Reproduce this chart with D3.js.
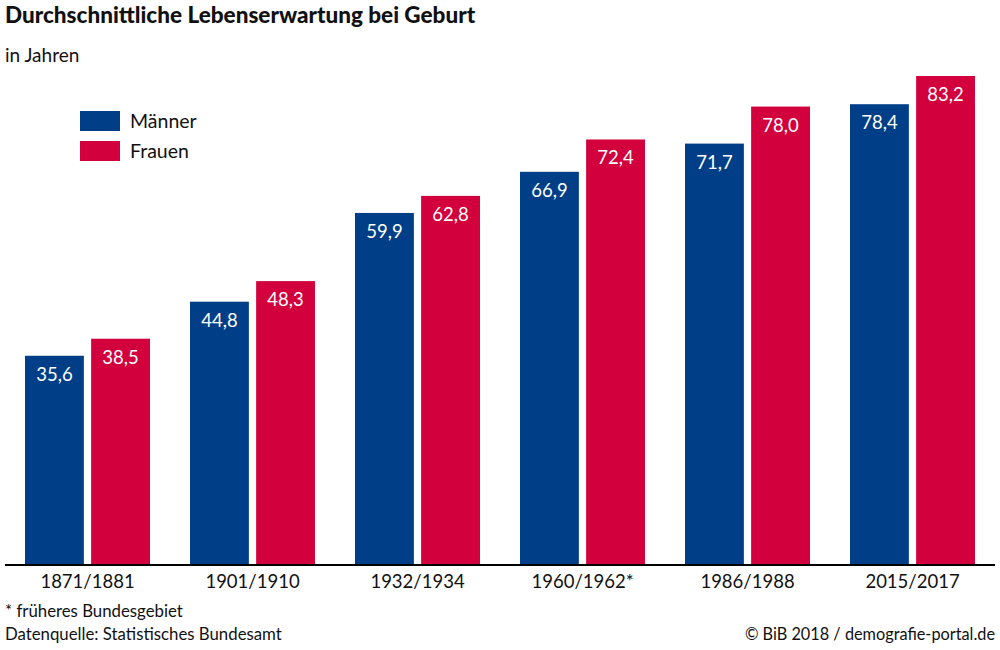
<!DOCTYPE html>
<html>
<head>
<meta charset="utf-8">
<script src="https://cdn.jsdelivr.net/npm/d3@7"></script>
<style>
  body { margin: 0; background: #fff; }
  text { font-family: Lato, "Noto Sans", sans-serif; }
</style>
</head>
<body>
<svg id="chart" width="1000" height="650"></svg>
<script>
// Lebenserwartung bei Geburt, Jahre
const periods = ['1871/1881', '1901/1910', '1932/1934', '1960/1962*', '1986/1988', '2015/2017'];
const maenner = [35.6, 44.8, 59.9, 66.9, 71.7, 78.4];
const frauen  = [38.5, 48.3, 62.8, 72.4, 78.0, 83.2];
const seriesNames = ['Männer', 'Frauen'];
const colors = ['#003f87', '#d2003c'];

const svg = d3.select('#chart');
const fmt = (v) => v.toFixed(1).replace('.', ',');

const base = 565;
const x0 = d3.scaleBand().domain(periods).range([-7, 983]).paddingInner(0).paddingOuter(0);
const x1 = d3.scaleBand().domain(seriesNames).range([32, 157]).paddingInner(0.11);
const y = d3.scaleLinear().domain([0, 83.2]).range([base, 76]);

// title
svg.append('text').attr('x', 5).attr('y', 23)
  .attr('font-size', 22.5).attr('font-weight', 900).attr('fill', '#111')
  .text('Durchschnittliche Lebenserwartung bei Geburt');
svg.append('text').attr('x', 5).attr('y', 62)
  .attr('font-size', 19).attr('fill', '#111').text('in Jahren');

const groups = svg.append('g').selectAll('g').data(periods)
  .enter().append('g')
  .attr('transform', (d) => `translate(${x0(d)},0)`);

const bars = groups.selectAll('g.bar')
  .data((d, i) => [maenner[i], frauen[i]].map((v, k) => ({ key: seriesNames[k], v, k })))
  .enter().append('g').attr('class', 'bar');

bars.append('rect')
  .attr('x', (d) => x1(d.key))
  .attr('y', (d) => y(d.v))
  .attr('width', x1.bandwidth())
  .attr('height', (d) => base - y(d.v))
  .attr('fill', (d) => colors[d.k]);

bars.append('text')
  .attr('x', (d) => x1(d.key) + x1.bandwidth() / 2)
  .attr('y', (d) => y(d.v) + 25)
  .attr('text-anchor', 'middle')
  .attr('font-size', 18.5).attr('fill', '#fff')
  .text((d) => fmt(d.v));

// axis
const axis = svg.append('g').attr('transform', `translate(0,${base})`)
  .call(d3.axisBottom(x0).tickSize(0).tickPadding(0));
axis.select('.domain').remove();
axis.selectAll('.tick text')
  .attr('x', (x1(seriesNames[0]) + x1.range()[1]) / 2 - x0.bandwidth() / 2)
  .attr('dy', 0).attr('y', 23)
  .attr('font-size', 18.5).attr('fill', '#111')
  .style('font-family', 'Lato, "Noto Sans", sans-serif');
svg.append('line').attr('x1', 5).attr('x2', 995).attr('y1', base).attr('y2', base)
  .attr('stroke', '#000').attr('stroke-width', 2);

// legend
const leg = svg.append('g').attr('transform', 'translate(80,111)');
seriesNames.forEach((s, i) => {
  leg.append('rect').attr('x', 0).attr('y', i * 30).attr('width', 40).attr('height', 20).attr('fill', colors[i]);
  leg.append('text').attr('x', 50).attr('y', i * 30 + 17).attr('font-size', 19.5).attr('fill', '#111').text(s);
});

// footer
svg.append('text').attr('x', 5).attr('y', 617).attr('font-size', 16.8).attr('fill', '#111').text('* früheres Bundesgebiet');
svg.append('text').attr('x', 5).attr('y', 640).attr('font-size', 16.8).attr('fill', '#111').text('Datenquelle: Statistisches Bundesamt');
svg.append('text').attr('x', 995).attr('y', 640).attr('text-anchor', 'end').attr('font-size', 16.3).attr('fill', '#111').text('© BiB 2018 / demografie-portal.de');
</script>
</body>
</html>
